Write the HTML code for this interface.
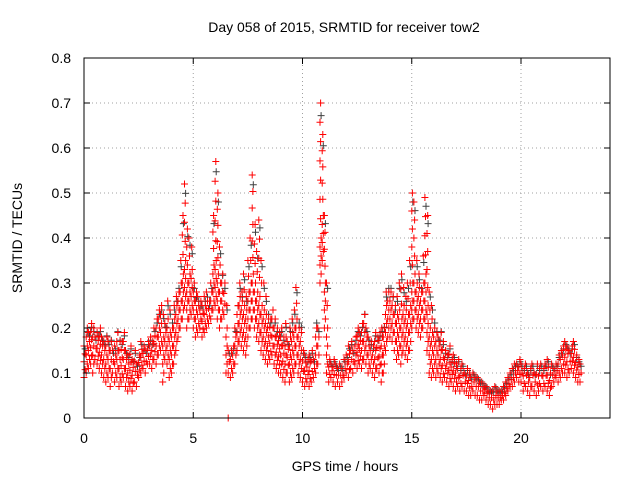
<!DOCTYPE html>
<html><head><meta charset="utf-8"><style>
body{margin:0;background:#fff}
svg text{font-family:"Liberation Sans",sans-serif;font-size:14px;fill:#000}
</style></head><body>
<svg id="chart" width="640" height="480" viewBox="0 0 640 480" xmlns="http://www.w3.org/2000/svg">
<rect width="640" height="480" fill="#fff"/>
<g id="grid"></g>
<g id="marks"></g>
<rect x="84" y="58" width="526" height="360" fill="none" stroke="#000" stroke-width="1"/>
<g id="ticks"></g>
<text x="344" y="32" text-anchor="middle">Day 058 of 2015, SRMTID for receiver tow2</text>
<text x="345" y="471" text-anchor="middle">GPS time / hours</text>
<text x="0" y="0" text-anchor="middle" transform="translate(22,238) rotate(-90)">SRMTID / TECUs</text>
</svg>
<script>
const xTicks=[0,5,10,15,20];
const yTicks=[0,0.1,0.2,0.3,0.4,0.5,0.6,0.7,0.8];
const yTickLabels=["0","0.1","0.2","0.3","0.4","0.5","0.6","0.7","0.8"];
const highVals=[.16,.2,.19,.21,.2,.18,.19,.2,.18,.17,
.19,.17,.18,.15,.16,.2,.18,.17,.19,.15,
.14,.16,.13,.15,.12,.14,.17,.16,.15,.17,
.18,.17,.2,.22,.24,.25,.23,.21,.26,.24,
.22,.25,.27,.3,.35,.45,.52,.42,.4,.38,
.3,.28,.27,.26,.25,.27,.28,.26,.3,.45,
.57,.5,.38,.33,.3,.25,.15,.15,.16,.2,
.26,.3,.28,.32,.27,.35,.4,.54,.43,.37,
.44,.35,.3,.27,.24,.22,.25,.22,.2,.19,
.2,.18,.21,.17,.2,.22,.24,.29,.22,.21,
.15,.14,.13,.14,.15,.13,.22,.2,.7,.63,
.45,.3,.13,.12,.13,.12,.11,.12,.11,.13,
.14,.16,.17,.15,.18,.2,.19,.21,.24,.2,
.18,.17,.16,.19,.18,.19,.2,.21,.28,.3,
.3,.28,.25,.27,.3,.32,.29,.27,.3,.35,
.5,.48,.35,.32,.3,.36,.49,.45,.28,.25,
.22,.2,.18,.2,.17,.15,.14,.16,.13,.14,
.12,.13,.11,.12,.1,.11,.1,.09,.1,.09,
.09,.08,.08,.07,.07,.06,.06,.06,.07,.06,
.06,.06,.07,.08,.09,.1,.11,.12,.12,.13,
.12,.11,.12,.1,.11,.12,.1,.12,.11,.12,
.11,.12,.13,.1,.12,.11,.12,.14,.15,.16,
.17,.16,.15,.16,.17,.14,.13,.12];
const lowVals=[.09,.1,.11,.12,.1,.13,.12,.11,.1,.09,
.08,.09,.07,.1,.08,.09,.07,.08,.09,.07,
.06,.07,.06,.08,.07,.09,.1,.11,.1,.12,
.12,.11,.13,.12,.14,.15,.08,.13,.12,.09,
.1,.12,.15,.18,.2,.22,.25,.2,.22,.23,
.2,.18,.19,.2,.18,.19,.2,.21,.22,.24,
.25,.22,.2,.22,.23,.1,.1,.09,.1,.12,
.15,.17,.16,.15,.14,.18,.2,.22,.2,.18,
.17,.15,.14,.13,.12,.13,.14,.12,.11,.1,
.1,.09,.08,.1,.08,.09,.1,.12,.1,.09,
.08,.07,.08,.07,.08,.09,.1,.12,.3,.35,
.2,.1,.08,.09,.08,.07,.08,.07,.08,.09,
.1,.09,.11,.1,.12,.11,.12,.11,.13,.12,
.1,.11,.1,.09,.11,.1,.08,.1,.15,.18,
.18,.17,.15,.13,.14,.12,.15,.14,.13,.15,
.2,.22,.2,.19,.18,.2,.22,.15,.1,.09,
.1,.09,.1,.09,.08,.09,.08,.07,.08,.07,
.06,.07,.06,.07,.06,.06,.05,.05,.06,.05,
.05,.04,.04,.05,.04,.03,.03,.02,.03,.03,
.03,.04,.04,.05,.06,.07,.07,.08,.09,.08,
.08,.06,.07,.06,.05,.07,.06,.05,.06,.07,
.06,.07,.06,.05,.07,.08,.09,.08,.09,.1,
.1,.09,.1,.11,.1,.09,.08,.08];
const timeStep=0.1;
const outlierTimes=[6.6];
const outlierVals=[0];

const X0=84,X1=610,Y0=418,Y1=58,PXH=21.85;
const yMax=0.8;
const sx=t=>X0+t*PXH;
const sy=v=>Y0-(v/yMax)*(Y0-Y1);
const NS="http://www.w3.org/2000/svg";
const grid=document.getElementById('grid'),ticks=document.getElementById('ticks'),marks=document.getElementById('marks');
function line(p,x1,y1,x2,y2,st,dash){const l=document.createElementNS(NS,'line');l.setAttribute('x1',x1);l.setAttribute('y1',y1);l.setAttribute('x2',x2);l.setAttribute('y2',y2);l.setAttribute('stroke',st);if(dash)l.setAttribute('stroke-dasharray',dash);p.appendChild(l);return l;}
yTicks.forEach((v,i)=>{const y=sy(v);
 if(i>0&&i<yTicks.length-1){const g=line(grid,X0,y,X1,y,'#a0a0a0','1,3');}
 line(ticks,X0,y,X0+6,y,'#000');line(ticks,X1,y,X1-6,y,'#000');
 const t=document.createElementNS(NS,'text');t.setAttribute('x',X0-13);t.setAttribute('y',y+5);t.setAttribute('text-anchor','end');t.textContent=yTickLabels[i];
 
 
 ticks.appendChild(t);});
xTicks.forEach(v=>{const x=sx(v);
 if(v>0){const g=line(grid,x,Y0,x,Y1,'#a0a0a0','1,3');}
 line(ticks,x,Y0,x,Y0-6,'#000');line(ticks,x,Y1,x,Y1+6,'#000');
 const t=document.createElementNS(NS,'text');t.setAttribute('x',x);t.setAttribute('y',Y0+25);t.setAttribute('text-anchor','middle');t.textContent=String(v);
 
 
 ticks.appendChild(t);});
let d={gray:'',red:''};
function plus(k,x,y){d[k]+=`M${(x-3.5).toFixed(1)} ${y.toFixed(1)}h7M${x.toFixed(1)} ${(y-3.5).toFixed(1)}v7`;}
highVals.forEach((h,i)=>{const lo=lowVals[i];const t=i*timeStep;
 plus('gray',sx(t+0.05),sy(h*0.96));
 const mid=lo+Math.min(h-lo,0.1);
 const n=Math.max(2,Math.round((mid-lo)/0.02));
 for(let j=0;j<=n;j++){const v=lo+(mid-lo)*j/n;const off=(j%2)*0.05;plus('red',sx(t+off),sy(v));}
 const m=Math.round((h-mid)/0.04);
 for(let j=1;j<=m;j++){const v=mid+(h-mid)*j/m;plus('red',sx(t+(j%2)*0.03),sy(v));}
});
outlierTimes.forEach((t,i)=>plus('red',sx(t),sy(outlierVals[i])));
['gray','red'].forEach(k=>{const p=document.createElementNS(NS,'path');p.setAttribute('d',d[k]);p.setAttribute('stroke',k==='red'?'#ff0000':'#404040');p.setAttribute('stroke-width','1');p.setAttribute('fill','none');
 
 
 marks.appendChild(p);});
</script>
</body></html>
